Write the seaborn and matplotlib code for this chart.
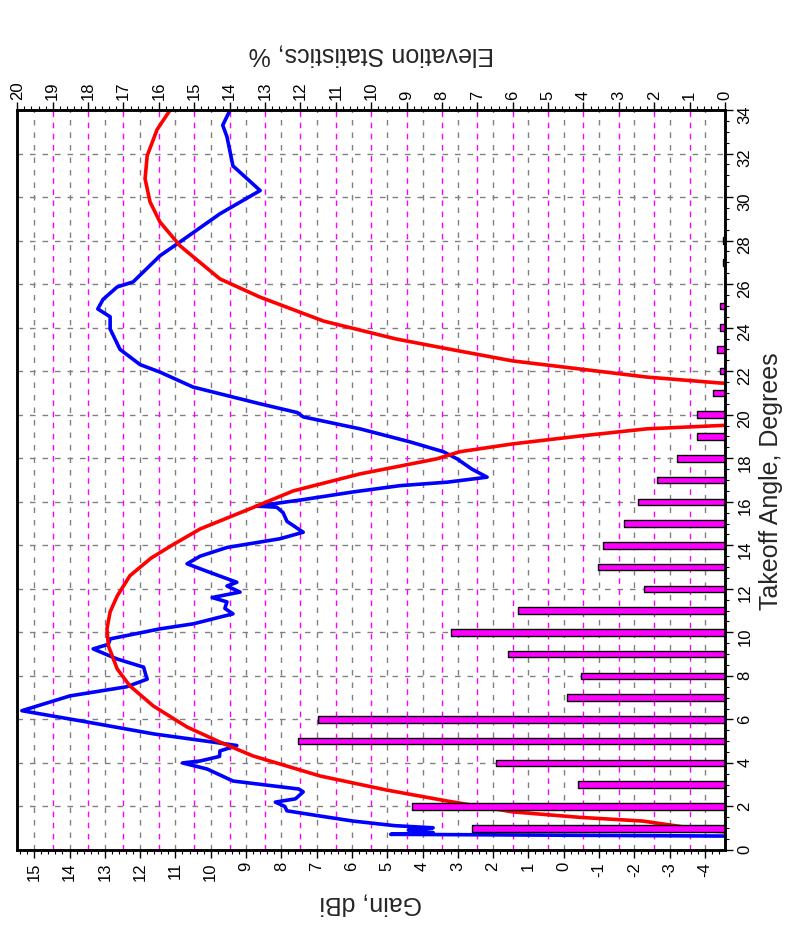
import matplotlib
matplotlib.use("Agg")
import matplotlib.pyplot as plt
import matplotlib.transforms as mtransforms
from matplotlib.ticker import MultipleLocator
import pandas as pd
import seaborn as sns

# Elevation pattern of the antenna: takeoff angle (deg) and gain (dBi)
blue_angle = [0.64, 0.72, 0.80, 0.92, 1.02, 1.12, 1.33, 1.56, 1.80, 2.00, 2.20, 2.35,
              2.67, 2.80, 3.17, 3.72, 4.00, 4.09, 4.30, 4.55, 4.80, 4.95, 5.33, 5.88,
              6.40, 7.08, 7.50, 7.85, 8.10, 8.40, 8.60, 8.78, 9.24, 9.45, 9.70, 10.16,
              10.39, 10.85, 11.10, 11.40, 11.60, 11.85, 12.13, 12.30, 12.80, 13.15,
              13.50, 13.90, 14.30, 14.60, 15.10, 15.50, 15.75, 15.80, 16.10, 16.45,
              16.74, 16.90, 17.13, 17.50, 17.97, 18.30, 18.75, 19.35, 19.90, 20.10,
              20.50, 21.27, 21.96, 22.30, 23.00, 23.94, 24.50, 24.86, 25.30, 25.87,
              26.10, 27.30, 27.94, 29.23, 30.30, 31.43, 32.77, 33.30, 34.00]
blue_gain = [-4.6, 4.9, 3.7, 4.4, 3.7, 4.8, 5.97, 6.9, 7.84, 7.9, 8.17, 7.6,
             7.38, 7.5, 9.37, 10.1, 10.8, 10.3, 9.75, 9.74, 9.26, 9.9, 11.6, 13.5,
             15.35, 13.99, 12.38, 11.8, 11.85, 11.9, 12.3, 12.66, 13.33, 12.9, 12.85, 11.44,
             10.5, 9.37, 9.6, 9.54, 9.96, 9.17, 9.54, 9.26, 10.1, 10.67,
             10.3, 9.54, 8.04, 7.38, 7.84, 7.95, 8.13, 8.7, 7.38, 5.97,
             4.64, 3.3, 2.17, 2.6, 3.02, 3.41, 4.35, 5.77, 7.38, 7.55,
             8.6, 10.5, 11.44, 12.0, 12.57, 12.85, 12.85, 13.2, 13.05, 12.65,
             12.2, 11.44, 10.87, 9.74, 8.6, 9.37, 9.54, 9.66, 9.45]

# Reference pattern, low lobe and high lobe (null between them)
red_angle_low = [0.70, 0.87, 1.33, 1.50, 1.75, 2.25, 2.75, 3.40, 4.32, 4.96, 5.65,
                 6.62, 7.54, 8.32, 9.38, 10.16, 10.94, 11.67, 12.60, 13.40, 14.00,
                 14.75, 15.67, 16.50, 17.28, 17.97, 18.30, 18.66, 19.02, 19.35,
                 19.50, 19.60]
red_gain_low = [-6.0, -4.2, -2.24, -0.46, 1.44, 3.3, 5.0, 6.9, 8.8, 9.74, 10.67,
                11.63, 12.29, 12.65, 12.9, 12.94, 12.85, 12.65, 12.29, 11.7, 11.1,
                10.3, 8.9, 7.66, 5.77, 3.6, 2.94, 1.44, -0.46, -2.35,
                -4.4, -6.0]
red_angle_high = [21.35, 21.46, 21.73, 22.10, 22.47, 23.00, 23.48, 24.30, 25.40,
                  26.24, 27.76, 28.86, 29.78, 30.84, 31.90, 33.10, 34.00]
red_gain_high = [-6.0, -4.4, -2.35, -0.46, 1.44, 3.2, 4.75, 6.8, 8.6,
                 9.74, 10.87, 11.44, 11.72, 11.86, 11.8, 11.52, 11.15]

# Share of openings at each takeoff angle (%)
stat_angle = list(range(1, 29))
stat_pct = [7.15, 8.84, 4.15, 6.47, 12.06, 11.5, 4.46, 4.07, 6.13, 7.74,
            5.85, 2.29, 3.59, 3.45, 2.85, 2.46, 1.92, 1.36, 0.79, 0.79,
            0.34, 0.14, 0.24, 0.14, 0.14, 0.0, 0.05, 0.05]

gain_ticks = list(range(-4, 16))
pct_ticks = list(range(0, 21))
angle_ticks = list(range(0, 35, 2))

sns.set_theme(style="white")
plt.rcParams["font.family"] = ["Liberation Sans", "DejaVu Sans"]
plt.rcParams["axes.unicode_minus"] = False

fig = plt.figure(figsize=(7.87, 9.28), dpi=100)
ax = fig.add_axes([17.3 / 787, 77 / 928, 707.7 / 787, 740 / 928])
ax2 = ax.twiny()

# gain curves
sns.lineplot(x=blue_gain, y=blue_angle, sort=False, estimator=None,
             color="#0000FF", linewidth=2.6, ax=ax)
red_df = pd.DataFrame({
    "gain": red_gain_low + red_gain_high,
    "angle": red_angle_low + red_angle_high,
    "lobe": [0] * len(red_gain_low) + [1] * len(red_gain_high),
})
sns.lineplot(data=red_df, x="gain", y="angle", units="lobe", estimator=None,
             sort=False, color="#FF0000", linewidth=2.6, ax=ax)

# elevation statistics bars on the percent axis
sns.barplot(x=stat_pct, y=stat_angle, orient="h", native_scale=True, width=0.3,
            color="#FF00FF", saturation=1, edgecolor="black", linewidth=1.0,
            errorbar=None, ax=ax2)

ax.set_xlim(15.48, -4.57)
ax.set_ylim(0, 34)
ax2.set_xlim(20, 0)

# axes layout: gain bottom, angle right, percent top
ax.yaxis.tick_right()
ax.yaxis.set_label_position("right")
ax.set_xticks(gain_ticks)
ax.set_yticks(angle_ticks)
ax2.set_xticks(pct_ticks)
ax.xaxis.set_minor_locator(MultipleLocator(0.2))
ax.yaxis.set_minor_locator(MultipleLocator(0.5))
ax2.xaxis.set_minor_locator(MultipleLocator(0.2))

for a in (ax, ax2):
    a.tick_params(which="major", direction="out", length=6, width=1.0,
                  color="black", labelsize=12, labelcolor="black")
    a.tick_params(which="minor", direction="out", length=3, width=0.8, color="black")
    for s in a.spines.values():
        s.set_color("black")
        s.set_linewidth(1.8)
ax.tick_params(axis="x", which="both", bottom=True, top=False, labelrotation=90, pad=2)
ax.tick_params(axis="y", which="both", right=True, left=False, labelrotation=90, pad=3)
ax2.tick_params(axis="x", which="both", top=True, bottom=False, labelrotation=90, pad=2)

# grids: gray for gain and angle, magenta for percent
ax.set_axisbelow(True)
ax.grid(True, which="major", color="#808080", linewidth=1.0, linestyle=(0, (4, 5)))
ax2.grid(False)
trans = mtransforms.blended_transform_factory(ax2.transData, ax.transAxes)
for p in pct_ticks[1:-1]:
    ax.plot([p, p], [0, 1], transform=trans, color="#FF00FF", linewidth=1.0,
            linestyle=(0, (4, 4)), zorder=0.6)

ax.set_xlabel("Gain, dBi", fontsize=18, rotation=180, labelpad=8)
ax.set_ylabel("Takeoff Angle, Degrees", fontsize=18, rotation=90, labelpad=5)
ax2.set_xlabel("Elevation Statistics, %", fontsize=18, rotation=180, labelpad=14)

fig.savefig("out.png", dpi=100, facecolor="white")
